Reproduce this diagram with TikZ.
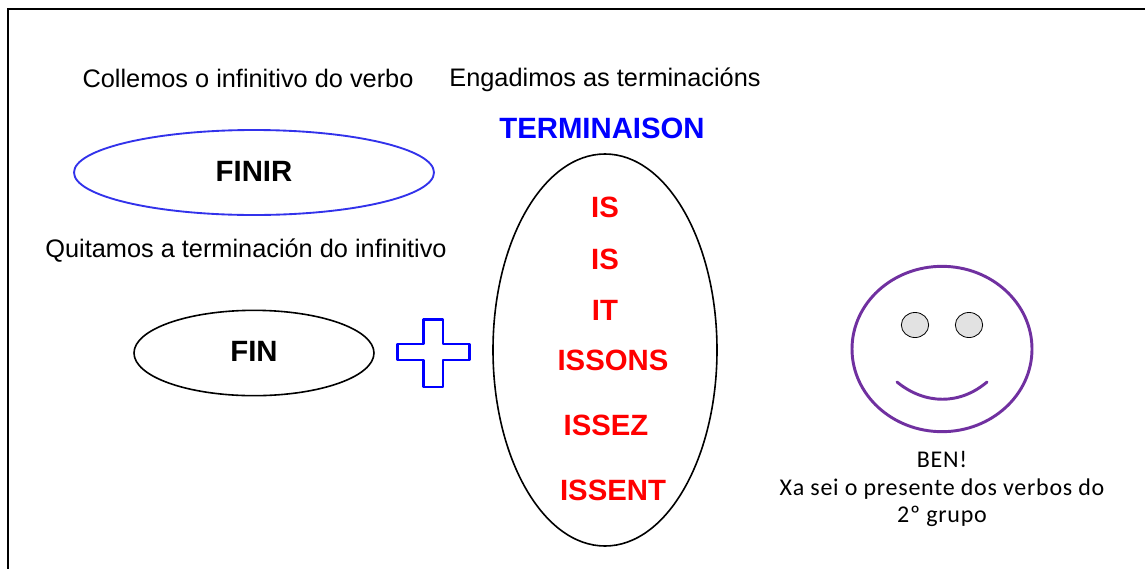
\documentclass[tikz,border=0pt]{standalone}
\usepackage{fontspec}
\setmainfont{Liberation Sans}
\newfontfamily\calib[LetterSpace=3]{Carlito}
\usetikzlibrary{shapes.geometric}
\tikzset{
 x=0.75pt,y=-0.75pt,
 lab/.style={inner sep=0pt,font=\fontsize{19}{22}\selectfont},
 bold/.style={inner sep=0pt,font=\fontsize{22}{25}\selectfont\bfseries},
 term/.style={inner sep=0pt,text=termred,font=\fontsize{22}{25}\selectfont\bfseries},
 oval/.style={ellipse,draw=black,line width=1.2pt,inner sep=0pt,minimum width=#1},
 eye/.style={ellipse,draw=black,fill=eyegray,line width=0.6pt,inner sep=0pt},
}
\definecolor{termred}{RGB}{255,0,0}
\definecolor{eyegray}{RGB}{226,226,226}
\definecolor{face}{RGB}{112,48,160}
\definecolor{ovalblue}{RGB}{50,50,235}
\definecolor{pureblue}{RGB}{0,0,255}
\begin{document}
\begin{tikzpicture}
\useasboundingbox (0,0) rectangle (1145,568);
\fill[white] (0,0) rectangle (1145,568);
\draw[black,line width=1.5pt] (8,570) -- (8,8.5) -- (1146,8.5);
\node[lab] (t1) at (248,78.5) {Collemos o infinitivo do verbo};
\node[lab] (t2) at (605,80) {Engadimos as terminacións};
\node[lab] (t3) at (246,251) {Quitamos a terminación do infinitivo};
\node[bold,text=pureblue] (tt) at (602,128) {TERMINAISON};
\node[oval=360*0.75pt,minimum height=63.75pt,draw=ovalblue,line width=1.4pt] (finir) at (254,172.5) {};
\node[bold] (finirt) at (254,171.5) {FINIR};
\node[oval=240*0.75pt,minimum height=64pt] (fin) at (254,353) {};
\node[bold] (fint) at (254,351.5) {FIN};
\node[oval=224*0.75pt,minimum height=294pt] (big) at (605,350) {};
\node[term] (a) at (605,207) {IS};
\node[term] (b) at (605,259) {IS};
\node[term] (c) at (605,310) {IT};
\node[term] (d) at (613,360) {ISSONS};
\node[term] (e) at (606,425) {ISSEZ};
\node[term] (f) at (613,490) {ISSENT};
\draw[pureblue,line width=1.9pt,line join=round] (423.5,319.5) -- (443,319.5) -- (443,344) -- (469.5,344) -- (469.5,360) -- (443,360) -- (443,387) -- (423.5,387) -- (423.5,360) -- (397.5,360) -- (397.5,344) -- (423.5,344) -- cycle;
\node[ellipse,draw=face,line width=2.2pt,inner sep=0pt,minimum width=135pt,minimum height=124pt] (head) at (942,349) {};
\node[eye,minimum width=20.5pt,minimum height=18.8pt] (e1) at (915,325) {};
\node[eye,minimum width=20.5pt,minimum height=18.8pt] (e2) at (969,325) {};
\coordinate (m1) at (897,382);
\coordinate (m2) at (987,382);
\draw[face,line width=2.2pt,line cap=round] (m1) .. controls (925,405) and (960,405) .. (m2);
\node[inner sep=0pt,align=center,font=\calib\fontsize{18}{20.6}\selectfont] (ben) at (942,489) {BEN!\\Xa sei o presente dos verbos do\\2º grupo};
\end{tikzpicture}
\end{document}
